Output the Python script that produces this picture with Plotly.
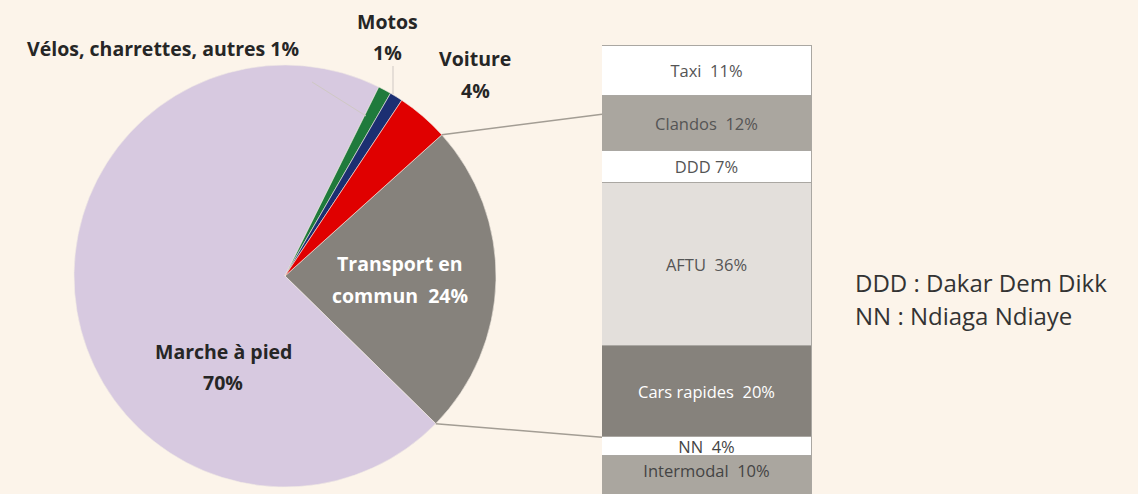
import math
import plotly.graph_objects as go

# --- data ---
modes = ["Transport en commun", "Marche à pied", "Vélos, charrettes, autres", "Motos", "Voiture"]
mode_share = [24, 70, 1, 1, 4]
mode_colors = ["#86827c", "#d7c9e0", "#1f7a3c", "#1c2f72", "#e00000"]

tc_modes = ["Taxi", "Clandos", "DDD", "AFTU", "Cars rapides", "NN", "Intermodal"]
tc_share = [11, 12, 7, 36, 20, 4, 10]
tc_colors = ["#ffffff", "#aaa69f", "#ffffff", "#e3dfdb", "#86827c", "#ffffff", "#aaa69f"]
tc_text_colors = ["#555555", "#555555", "#555555", "#555555", "#ffffff", "#444444", "#444444"]

notes = ["DDD : Dakar Dem Dikk", "NN : Ndiaga Ndiaye"]

W, H = 1138, 494
BG = "#fcf4ea"
FONT = "Open Sans"

# pie geometry (pixels)
cx, cy, r = 285, 276, 211
rot = 48

# bar axis: pixels per percent and top of the stack
y_top, ppp = 46, 4.55
y2_range = [(H - y_top) / ppp, -y_top / ppp]
bx0, bx1 = 602, 812


def px(x):
    return x / W


def py(y):
    return 1 - y / H


def bar_y(v):
    return (v - y2_range[1]) / (y2_range[0] - y2_range[1]) * H


fig = go.Figure()

fig.add_trace(go.Pie(
    labels=modes, values=mode_share,
    marker=dict(colors=mode_colors, line=dict(color="#f3ece4", width=0.6)),
    sort=False, direction="clockwise", rotation=rot,
    textinfo="none", hoverinfo="label+percent", showlegend=False,
    domain=dict(x=[px(cx - r), px(cx + r)], y=[py(cy + r), py(cy - r)]),
))

for name, val, col, tcol in zip(tc_modes, tc_share, tc_colors, tc_text_colors):
    fig.add_trace(go.Bar(
        x=[0], y=[val], width=[1],
        marker=dict(color=col, line=dict(color="#aaa7a2", width=1)),
        text=[f"{name}\u00a0\u00a0{val}%" if name != "DDD" else f"{name} {val}%"],
        textposition="inside",
        insidetextanchor="start" if name == "Intermodal" else "middle",
        constraintext="none",
        textfont=dict(family=FONT, size=16.5, color=tcol),
        xaxis="x2", yaxis="y2", showlegend=False, name=name,
    ))

fig.update_layout(
    width=W, height=H,
    margin=dict(l=0, r=0, t=0, b=0),
    paper_bgcolor=BG, plot_bgcolor=BG,
    barmode="stack", bargap=0,
    xaxis2=dict(domain=[px(bx0), px(bx1)], range=[-0.5, 0.5], visible=False, anchor="y2"),
    yaxis2=dict(domain=[0, 1], range=y2_range, visible=False, anchor="x2"),
    xaxis=dict(visible=False), yaxis=dict(visible=False),
)

# connector lines from the "Transport en commun" slice to the stacked bar
a0 = math.radians(rot)
a1 = math.radians(rot + 360 * mode_share[0] / sum(mode_share))
line_col = "#a39d94"
for ang, v in [(a0, 15), (a1, sum(tc_share[:5]))]:
    fig.add_shape(type="line", xref="paper", yref="paper",
                  x0=px(cx + r * math.sin(ang)), y0=py(cy - r * math.cos(ang)),
                  x1=px(bx0), y1=py(bar_y(v)),
                  line=dict(color=line_col, width=1.5))

# faint leader lines for the small slices
fig.add_shape(type="line", xref="paper", yref="paper",
              x0=px(312), y0=py(82), x1=px(366), y1=py(116),
              line=dict(color="#cfc8c4", width=1))
fig.add_shape(type="line", xref="paper", yref="paper",
              x0=px(393), y0=py(66), x1=px(393), y1=py(94),
              line=dict(color="#cfc8c4", width=1))


def label(x, y, text, size=19.5, color="#262626", bold=True, anchor="center"):
    t = f"<b>{text}</b>" if bold else text
    fig.add_annotation(x=px(x), y=py(y), xref="paper", yref="paper", text=t,
                       showarrow=False, xanchor=anchor, yanchor="middle",
                       font=dict(family=FONT, size=size, color=color))


label(163, 48, f"{modes[2]} {mode_share[2]}%")
label(387, 21, modes[3])
label(387, 52, f"{mode_share[3]}%")
label(475, 59, modes[4])
label(475, 90, f"{mode_share[4]}%")
label(223, 351, modes[1])
label(223, 382, f"{mode_share[1]}%")
label(400, 263, "Transport en", color="#ffffff")
label(400, 295, f"commun\u00a0\u00a0{mode_share[0]}%", color="#ffffff")

label(853, 282, notes[0], size=24, color="#333333", bold=False, anchor="left")
label(853, 315, notes[1], size=24, color="#333333", bold=False, anchor="left")

fig.write_html("out.html", config={"displayModeBar": False},
               post_script="document.body.style.margin='0';")
